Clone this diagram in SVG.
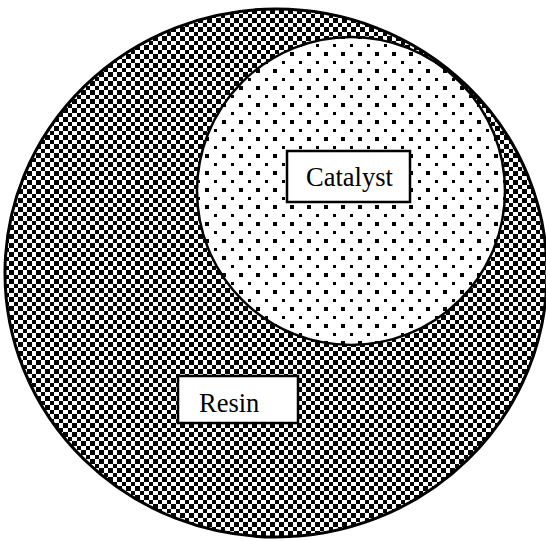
<svg xmlns="http://www.w3.org/2000/svg" width="546" height="541" viewBox="0 0 546 541">
<defs>
<pattern id="checker" x="0" y="0" width="9" height="9" patternUnits="userSpaceOnUse">
<rect width="9" height="9" fill="#fff" shape-rendering="crispEdges"/>
<rect x="0" y="0" width="4.5" height="4.5" fill="#000" shape-rendering="crispEdges"/>
<rect x="4.5" y="4.5" width="4.5" height="4.5" fill="#000" shape-rendering="crispEdges"/>
</pattern>
<pattern id="dots" x="0" y="0" width="17" height="17" patternUnits="userSpaceOnUse">
<rect width="17" height="17" fill="#fff" shape-rendering="crispEdges"/>
<rect x="1" y="1" width="3.5" height="3.5" fill="#000" shape-rendering="crispEdges"/>
<rect x="9.5" y="9.5" width="3.5" height="3.5" fill="#000" shape-rendering="crispEdges"/>
</pattern>
</defs>
<style>
.label{fill:#fff;stroke:#000;stroke-width:2.5}
.txt{font-family:"Liberation Serif","Times New Roman",serif;font-size:26.5px;fill:#000}
</style>
<rect width="546" height="541" fill="#fff"/>
<g id="resin">
<ellipse cx="276" cy="273" rx="271" ry="264" fill="url(#checker)" stroke="#000" stroke-width="3"/>
<rect class="label" x="178" y="376" width="120" height="47"/>
<text class="txt" x="199" y="412">Resin</text>
</g>
<g id="catalyst">
<circle cx="351" cy="191" r="154" fill="url(#dots)" stroke="#000" stroke-width="2.5"/>
<rect class="label" x="287" y="151" width="123" height="51"/>
<text class="txt" x="306" y="186">Catalyst</text>
</g>
<g id="connectors"/>
</svg>
